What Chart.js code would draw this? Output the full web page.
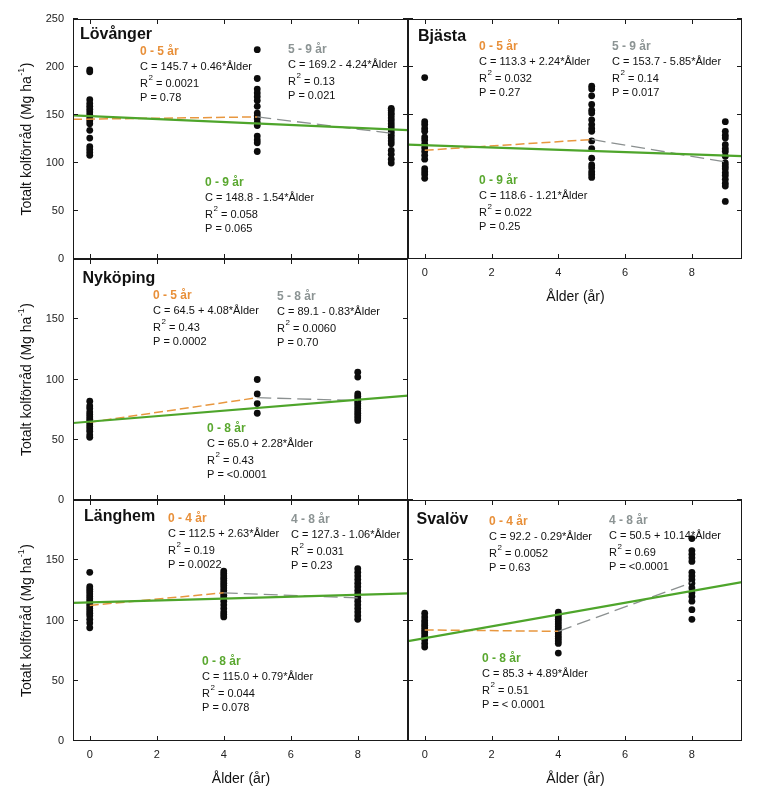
<!DOCTYPE html>
<html><head><meta charset="utf-8">
<script src="https://cdn.jsdelivr.net/npm/chart.js@4.4.0/dist/chart.umd.min.js"></script>
<style>
html,body{margin:0;padding:0;background:#fff;}
#wrap{position:relative;width:768px;height:802px;overflow:hidden;}
#wrap canvas{position:absolute;left:0;top:0;}
</style></head><body><div id="wrap"></div>
<script>
// ---------- data ----------
const xTicks = [0, 2, 4, 6, 8];
const yTicksTop = [0, 50, 100, 150, 200, 250];
const yTicksLow = [0, 50, 100, 150, 200];

// Lövånger
const lovAges = [0, 5, 9];
const lovAge0 = [197, 195, 166, 162, 159, 156, 153, 150, 147, 144, 141, 134, 126, 117, 114, 111, 108];
const lovAge5 = [218, 188, 177, 173, 169, 165, 159, 152, 149, 146, 142, 139, 128, 124, 121, 112];
const lovAge9 = [157, 155, 152, 150, 147, 144, 141, 138, 135, 132, 129, 126, 123, 120, 113, 109, 104, 100];
const lovAllX = [-0.5, 9.5],  lovAllY = [149.6, 134.2];
const lovEarlyX = [-0.5, 5],  lovEarlyY = [145.5, 148.0];
const lovLateX = [5, 9],      lovLateY = [148.0, 131.0];

// Bjästa
const bjaAges = [0, 5, 9];
const bjaAge0 = [189, 143, 140, 136, 133, 127, 124, 120, 116, 112, 108, 104, 94, 91, 88, 84];
const bjaAge5 = [180, 177, 170, 161, 155, 152, 145, 140, 136, 133, 123, 115, 105, 98, 95, 91, 88, 85];
const bjaAge9 = [143, 133, 129, 126, 119, 115, 112, 107, 100, 97, 94, 90, 87, 83, 79, 76, 60];
const bjaAllX = [-0.5, 9.5],  bjaAllY = [119.2, 107.1];
const bjaEarlyX = [0, 5],     bjaEarlyY = [113.3, 124.5];
const bjaLateX = [5, 9],      bjaLateY = [124.5, 101.1];

// Nyköping
const nykAges = [0, 5, 8];
const nykAge0 = [82, 78, 76, 73, 71, 69, 67, 65, 63, 61, 59, 57, 54, 52];
const nykAge5 = [100, 88, 80, 72];
const nykAge8 = [106, 102, 88, 86, 84, 82, 80, 78, 76, 74, 72, 70, 68, 66];
const nykAllX = [-0.5, 9.5],  nykAllY = [63.9, 86.7];
const nykEarlyX = [0, 5],     nykEarlyY = [64.5, 84.9];
const nykLateX = [5, 8],      nykLateY = [84.9, 82.5];

// Länghem
const lanAges = [0, 4, 8];
const lanAge0 = [140, 128, 126, 124, 122, 120, 118, 116, 114, 112, 110, 108, 106, 104, 101, 98, 94];
const lanAge4 = [141, 139, 137, 135, 133, 131, 129, 127, 125, 123, 121, 119, 116, 113, 110, 107, 105, 103];
const lanAge8 = [143, 140, 137, 134, 131, 128, 125, 122, 119, 116, 113, 110, 107, 104, 101];
const lanAllX = [-0.5, 9.5],  lanAllY = [114.6, 122.5];
const lanEarlyX = [0, 4],     lanEarlyY = [112.5, 123.0];
const lanLateX = [4, 8],      lanLateY = [123.0, 118.8];

// Svalöv
const svaAges = [0, 4, 8];
const svaAge0 = [106, 103, 100, 98, 96, 94, 92, 90, 88, 86, 84, 81, 78];
const svaAge4 = [107, 105, 103, 101, 99, 97, 95, 93, 91, 89, 87, 85, 83, 81, 73];
const svaAge8 = [168, 158, 155, 152, 149, 140, 137, 134, 131, 127, 123, 120, 116, 109, 101];
const svaAllX = [-0.5, 9.5],  svaAllY = [82.9, 131.8];
const svaEarlyX = [0, 4],     svaEarlyY = [92.2, 91.0];
const svaLateX = [4, 8],      svaLateY = [91.0, 131.6];

// ---------- helpers ----------
function pts(ages, cols) { const out = []; ages.forEach((a, i) => cols[i].forEach(v => out.push({x: a, y: v}))); return out; }
function seg(xs, ys) { return xs.map((x, i) => ({x: x, y: ys[i]})); }

const FONT = '"Liberation Sans", Arial, Helvetica, sans-serif';
const C_GREEN = '#4ea52b', C_ORANGE = '#e8973f', C_GREY = '#8b9090';
const T_GREEN = '#5aa830', T_ORANGE = '#e8903a', T_GREY = '#8c9494';
const INK = '#111';
const Y_BOX = 40, X_BOX = 30;

function note(x, y, kind, head, eq, r2, p) { return {x, y, kind, head, eq, r2, p}; }

const panels = [
  { name: 'Lövånger', rect: {l: 73, t: 19, r: 408, b: 259}, yMax: 250, yTicks: yTicksTop, yLabels: true, hideY: [], xLabels: false, yTitle: true, xTitle: false,
    title: {x: 80, y: 34.5},
    points: pts(lovAges, [lovAge0, lovAge5, lovAge9]),
    all: seg(lovAllX, lovAllY), early: seg(lovEarlyX, lovEarlyY), late: seg(lovLateX, lovLateY),
    notes: [
      note(140, 52, 'o', '0 - 5 år', 'C = 145.7 + 0.46*Ålder', '0.0021', 'P = 0.78'),
      note(288, 50, 'g', '5 - 9 år', 'C = 169.2 - 4.24*Ålder', '0.13', 'P = 0.021'),
      note(205, 183, 'n', '0 - 9 år', 'C = 148.8 - 1.54*Ålder', '0.058', 'P = 0.065')
    ]},
  { name: 'Bjästa', rect: {l: 408, t: 19, r: 742, b: 259}, yMax: 250, yTicks: yTicksTop, yLabels: false, hideY: [], xLabels: true, yTitle: false, xTitle: true,
    title: {x: 418, y: 36.5},
    points: pts(bjaAges, [bjaAge0, bjaAge5, bjaAge9]),
    all: seg(bjaAllX, bjaAllY), early: seg(bjaEarlyX, bjaEarlyY), late: seg(bjaLateX, bjaLateY),
    notes: [
      note(479, 47, 'o', '0 - 5 år', 'C = 113.3 + 2.24*Ålder', '0.032', 'P = 0.27'),
      note(612, 47, 'g', '5 - 9 år', 'C = 153.7 - 5.85*Ålder', '0.14', 'P = 0.017'),
      note(479, 181, 'n', '0 - 9 år', 'C = 118.6 - 1.21*Ålder', '0.022', 'P = 0.25')
    ]},
  { name: 'Nyköping', rect: {l: 73, t: 259, r: 408, b: 500}, yMax: 200, yTicks: yTicksLow, yLabels: true, hideY: [200], xLabels: false, yTitle: true, xTitle: false,
    title: {x: 82.5, y: 279},
    points: pts(nykAges, [nykAge0, nykAge5, nykAge8]),
    all: seg(nykAllX, nykAllY), early: seg(nykEarlyX, nykEarlyY), late: seg(nykLateX, nykLateY),
    notes: [
      note(153, 296, 'o', '0 - 5 år', 'C = 64.5 + 4.08*Ålder', '0.43', 'P = 0.0002'),
      note(277, 297, 'g', '5 - 8 år', 'C = 89.1 - 0.83*Ålder', '0.0060', 'P = 0.70'),
      note(207, 429, 'n', '0 - 8 år', 'C = 65.0 + 2.28*Ålder', '0.43', 'P = <0.0001')
    ]},
  { name: 'Länghem', rect: {l: 73, t: 500, r: 408, b: 741}, yMax: 200, yTicks: yTicksLow, yLabels: true, hideY: [200], xLabels: true, yTitle: true, xTitle: true,
    title: {x: 84, y: 517},
    points: pts(lanAges, [lanAge0, lanAge4, lanAge8]),
    all: seg(lanAllX, lanAllY), early: seg(lanEarlyX, lanEarlyY), late: seg(lanLateX, lanLateY),
    notes: [
      note(168, 519, 'o', '0 - 4 år', 'C = 112.5 + 2.63*Ålder', '0.19', 'P = 0.0022'),
      note(291, 520, 'g', '4 - 8 år', 'C = 127.3 - 1.06*Ålder', '0.031', 'P = 0.23'),
      note(202, 662, 'n', '0 - 8 år', 'C = 115.0 + 0.79*Ålder', '0.044', 'P = 0.078')
    ]},
  { name: 'Svalöv', rect: {l: 408, t: 500, r: 742, b: 741}, yMax: 200, yTicks: yTicksLow, yLabels: false, hideY: [], xLabels: true, yTitle: false, xTitle: true,
    title: {x: 416.5, y: 519.5},
    points: pts(svaAges, [svaAge0, svaAge4, svaAge8]),
    all: seg(svaAllX, svaAllY), early: seg(svaEarlyX, svaEarlyY), late: seg(svaLateX, svaLateY),
    notes: [
      note(489, 522, 'o', '0 - 4 år', 'C = 92.2 - 0.29*Ålder', '0.0052', 'P = 0.63'),
      note(609, 521, 'g', '4 - 8 år', 'C = 50.5 + 10.14*Ålder', '0.69', 'P = <0.0001'),
      note(482, 659, 'n', '0 - 8 år', 'C = 85.3 + 4.89*Ålder', '0.51', 'P = < 0.0001')
    ]}
];

// ---------- plugin: frame, inward ticks, texts ----------
const panelPlugin = {
  id: 'panelDeco',
  afterDatasetsDraw(chart) {
    const ctx = chart.ctx, a = chart.chartArea;
    const xs = chart.scales.x, ys = chart.scales.y;
    ctx.save();
    ctx.strokeStyle = '#1a1a1a'; ctx.lineWidth = 1;
    ctx.strokeRect(a.left + 0.5, a.top + 0.5, a.right - a.left - 1, a.bottom - a.top - 1);
    const TL = 5;
    ctx.beginPath();
    xs.ticks.forEach(t => {
      const px = Math.round(xs.getPixelForValue(t.value)) + 0.5;
      ctx.moveTo(px, a.bottom); ctx.lineTo(px, a.bottom - TL);
      ctx.moveTo(px, a.top); ctx.lineTo(px, a.top + TL);
    });
    ys.ticks.forEach(t => {
      const py = Math.round(ys.getPixelForValue(t.value)) - 0.5;
      ctx.moveTo(a.left, py); ctx.lineTo(a.left + TL, py);
      ctx.moveTo(a.right, py); ctx.lineTo(a.right - TL, py);
    });
    ctx.stroke();
    ctx.restore();
  },
  afterDraw(chart) {
    const P = chart.options.plugins.panelDeco.panel;
    const ctx = chart.ctx, a = chart.chartArea;
    ctx.save();
    ctx.textBaseline = 'middle';
    ctx.textAlign = 'left';
    ctx.fillStyle = INK;
    ctx.font = 'bold 16px ' + FONT;
    ctx.fillText(P.name, P.title.x, P.title.y);
    P.notes.forEach(n => {
      const col = n.kind === 'o' ? T_ORANGE : (n.kind === 'g' ? T_GREY : T_GREEN);
      ctx.fillStyle = col;
      ctx.font = 'bold 12px ' + FONT;
      ctx.fillText(n.head, n.x, n.y);
      ctx.fillStyle = INK;
      ctx.font = '11px ' + FONT;
      ctx.fillText(n.eq, n.x, n.y + 14.5);
      const ry = n.y + 31.5;
      ctx.fillText('R', n.x, ry);
      const rw = ctx.measureText('R').width;
      ctx.font = '8px ' + FONT;
      ctx.fillText('2', n.x + rw + 0.5, ry - 6);
      const sw = ctx.measureText('2').width;
      ctx.font = '11px ' + FONT;
      ctx.fillText(' = ' + n.r2, n.x + rw + sw + 0.5, ry);
      ctx.fillText(n.p, n.x, n.y + 45.5);
    });
    if (P.yTitle) {
      const cy = (a.top + a.bottom) / 2;
      ctx.save();
      ctx.translate(27.5, cy);
      ctx.rotate(-Math.PI / 2);
      ctx.fillStyle = INK;
      const main = 'Totalt kolförråd (Mg ha', sup = '-1', end = ')';
      ctx.font = '14px ' + FONT;
      const w1 = ctx.measureText(main).width, w3 = ctx.measureText(end).width;
      ctx.font = '9px ' + FONT;
      const w2 = ctx.measureText(sup).width;
      const x0 = -(w1 + w2 + w3 + 1) / 2;
      ctx.font = '14px ' + FONT;
      ctx.fillText(main, x0, 0);
      ctx.font = '9px ' + FONT;
      ctx.fillText(sup, x0 + w1 + 0.5, -6);
      ctx.font = '14px ' + FONT;
      ctx.fillText(end, x0 + w1 + w2 + 1, 0);
      ctx.restore();
    }
    if (P.xTitle) {
      ctx.fillStyle = INK;
      ctx.font = '14px ' + FONT;
      ctx.textAlign = 'center';
      ctx.fillText('Ålder (år)', (a.left + a.right) / 2 + 0.5, a.bottom + 38.5);
    }
    ctx.restore();
  }
};

const wrap = document.getElementById('wrap');
panels.forEach(P => {
  const cv = document.createElement('canvas');
  cv.width = 768; cv.height = 802;
  cv.style.width = '768px'; cv.style.height = '802px';
  wrap.appendChild(cv);
  new Chart(cv.getContext('2d'), {
    type: 'scatter',
    data: {
      datasets: [
        { type: 'line', data: P.all, borderColor: C_GREEN, borderWidth: 2.2, pointRadius: 0, fill: false, tension: 0 },
        { type: 'line', data: P.late, borderColor: C_GREY, borderWidth: 1.3, borderDash: [14, 6], pointRadius: 0, fill: false, tension: 0 },
        { type: 'line', data: P.early, borderColor: C_ORANGE, borderWidth: 1.5, borderDash: [9, 4], pointRadius: 0, fill: false, tension: 0 },
        { data: P.points, backgroundColor: '#0c0c0c', borderWidth: 0, pointRadius: 3.4, pointHoverRadius: 3.4 }
      ]
    },
    options: {
      responsive: false, animation: false, devicePixelRatio: 1,
      layout: { padding: { left: P.rect.l - Y_BOX, top: P.rect.t, right: 768 - P.rect.r, bottom: 802 - P.rect.b - X_BOX } },
      plugins: { legend: { display: false }, tooltip: { enabled: false }, panelDeco: { panel: P } },
      events: [],
      scales: {
        x: {
          type: 'linear', min: -0.5, max: 9.5,
          afterBuildTicks: s => { s.ticks = xTicks.map(v => ({value: v})); },
          afterFit: s => { s.height = X_BOX; },
          grid: { display: false, drawTicks: false }, border: { display: false },
          ticks: { display: P.xLabels, padding: 7, color: '#222', font: { family: FONT, size: 11 }, maxRotation: 0 }
        },
        y: {
          type: 'linear', min: 0, max: P.yMax,
          afterBuildTicks: s => { s.ticks = P.yTicks.map(v => ({value: v})); },
          afterFit: s => { s.width = Y_BOX; },
          grid: { display: false, drawTicks: false }, border: { display: false },
          ticks: { display: P.yLabels, padding: 9, color: '#222', font: { family: FONT, size: 11 },
                   callback: v => (P.hideY.indexOf(v) >= 0 ? '' : String(v)) }
        }
      }
    },
    plugins: [panelPlugin]
  });
});
</script>
</body></html>
